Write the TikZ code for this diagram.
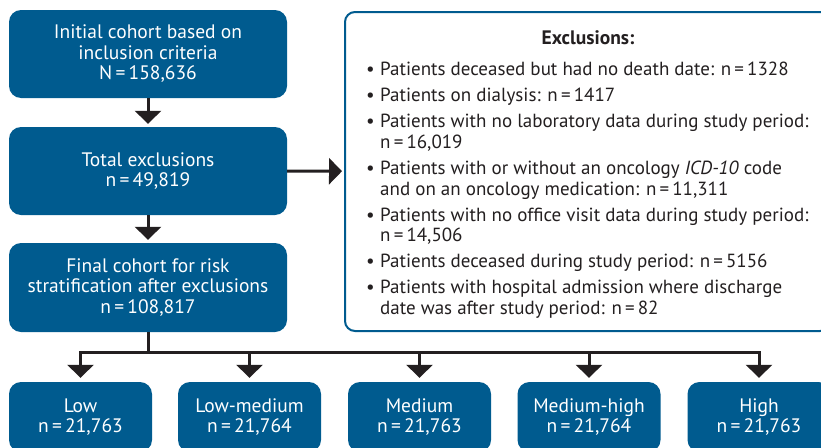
\documentclass[tikz,border=0pt]{standalone}
\usepackage{fontspec}
\setmainfont{PT Sans}
\usetikzlibrary{arrows.meta}
\definecolor{boxblue}{HTML}{005B8F}
\definecolor{arrowc}{HTML}{231F20}
\begin{document}
\begin{tikzpicture}[x=1pt,y=-1pt,
  txt/.style={font=\fontsize{19.5}{20.5}\selectfont},
  listtxt/.style={font=\fontsize{19}{20.5}\selectfont},
  bluebox/.style={txt, fill=boxblue, rounded corners=12pt, text=white, align=center, inner sep=0pt},
  leftbox/.style={bluebox, minimum width=278pt, minimum height=88pt},
  riskbox/.style={bluebox, minimum width=143pt, minimum height=70pt},
  arr/.style={draw=arrowc, line width=3pt, -{Triangle[width=26pt,length=13pt]}},
  conn/.style={draw=arrowc, line width=3pt},
  item/.style={listtxt, text=arrowc, anchor=base west, inner sep=0pt},
]
\useasboundingbox (0,0) rectangle (821,447);
% left column
\node[leftbox] (init) at (148,54) {Initial cohort based on\\inclusion criteria\\N\,=\,158,636};
\node[leftbox] (total) at (148,171) {Total exclusions\\n\,=\,49,819};
\node[leftbox, minimum height=89pt] (final) at (148,287.5) {Final cohort for risk\\stratification after exclusions\\n\,=\,108,817};
% exclusions box
\node[draw=boxblue, line width=2pt, rounded corners=10pt, fill=white, minimum width=485pt, minimum height=319pt, inner sep=0pt] (excl) at (587.5,171.5) {};
\node[font=\fontsize{19.5}{20.5}\selectfont\bfseries, text=arrowc, anchor=base, inner sep=0pt] (title) at (588,44) {Exclusions:};
\foreach \y/\t [count=\i] in {75/{Patients deceased but had no death date: n\,=\,1328},
  101/{Patients on dialysis: n\,=\,1417},
  127/{Patients with no laboratory data during study period:},
  174/{Patients with or without an oncology \textit{ICD-10} code},
  221/{Patients with no office visit data during study period:},
  267/{Patients deceased during study period: n\,=\,5156},
  293/{Patients with hospital admission where discharge}}{
  \node[item] (b\i) at (366,\y) {\textbullet};
  \node[item] (l\i) at (380,\y) {\t};
}
\node[item] (c3) at (380,148) {n\,=\,16,019};
\node[item] (c4) at (380,195) {and on an oncology medication: n\,=\,11,311};
\node[item] (c5) at (380,241) {n\,=\,14,506};
\node[item] (c7) at (380,314) {date was after study period: n\,=\,82};
% risk boxes
\node[riskbox] (low) at (80.5,417) {Low\\n\,=\,21,763};
\node[riskbox] (lowmed) at (249.5,417) {Low-medium\\n\,=\,21,764};
\node[riskbox] (med) at (419.5,417) {Medium\\n\,=\,21,763};
\node[riskbox] (medhigh) at (589,417) {Medium-high\\n\,=\,21,764};
\node[riskbox] (high) at (759,417) {High\\n\,=\,21,763};
% connectors
\draw[arr, shorten >=3pt] (init) -- (total);
\draw[arr, shorten >=3pt] (total) -- (final);
\draw[arr, shorten >=2pt] (total) -- (excl);
\coordinate (bj) at (148,352);
\coordinate (br1) at (80.5,352);
\coordinate (br2) at (249.5,352);
\coordinate (br3) at (419.5,352);
\coordinate (br4) at (589,352);
\coordinate (br5) at (759,352);
\draw[conn] (final.south) -- (bj);
\draw[conn, line cap=rect] (br1) -- (br5);
\foreach \n [count=\i] in {low,lowmed,med,medhigh,high}{
  \draw[arr, shorten >=4pt] (br\i) -- (\n);
}
\end{tikzpicture}
\end{document}
